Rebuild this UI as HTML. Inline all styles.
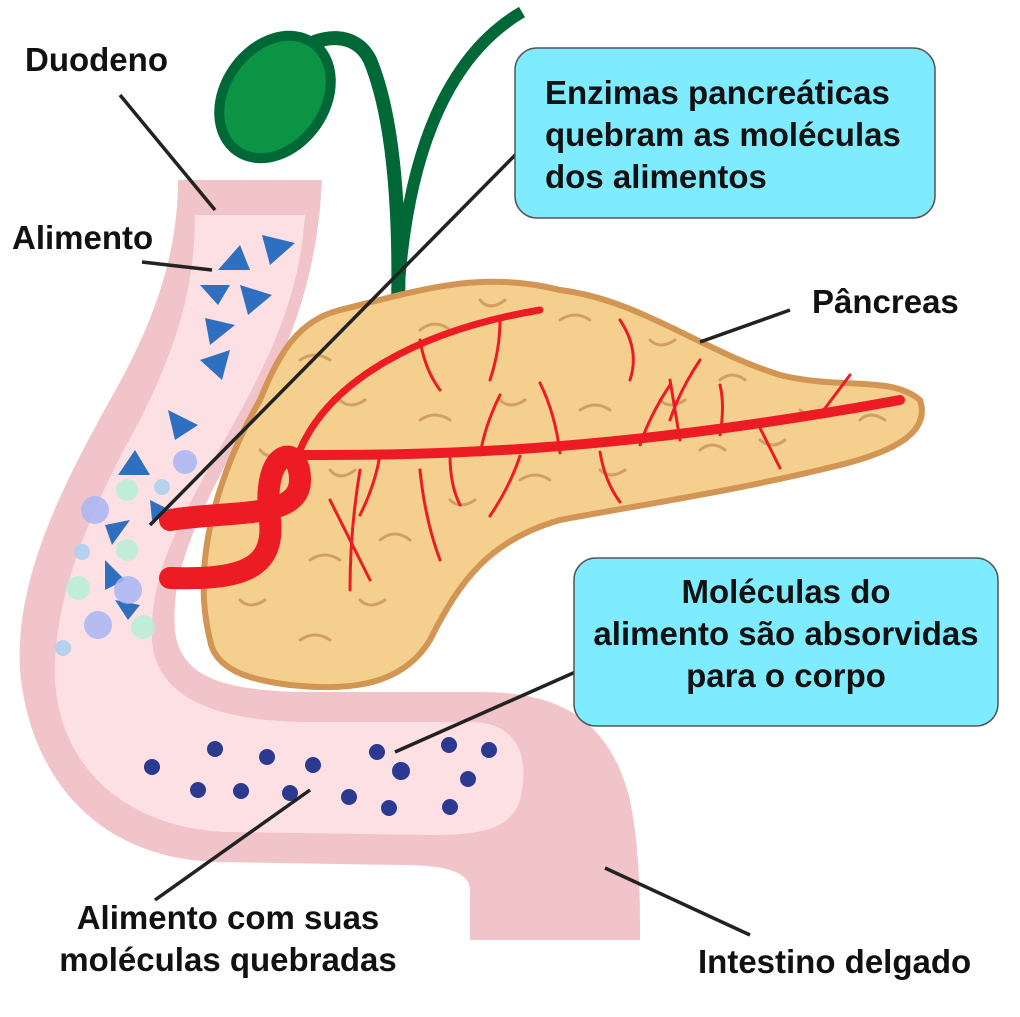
<!DOCTYPE html>
<html><head><meta charset="utf-8"><style>
html,body{margin:0;padding:0;background:#fff;}
svg{display:block}
text{font-family:"Liberation Sans",sans-serif;font-size:33px;font-weight:bold;fill:#111;}
</style></head><body>
<svg width="1020" height="1017" viewBox="0 0 1020 1017">
<!-- bile duct + gallbladder -->
<path d="M398 310 C400 220 395 120 370 60 C355 30 320 35 300 50" fill="none" stroke="#006837" stroke-width="14"/>
<path d="M398 300 C405 170 440 60 522 12" fill="none" stroke="#006837" stroke-width="12"/>
<ellipse cx="275" cy="97" rx="50" ry="66" transform="rotate(35 275 97)" fill="#0b9444" stroke="#006837" stroke-width="10"/>
<!-- duodenum outer -->
<path d="M178 180 L322 180 C318 260 300 330 250 420 C200 510 170 570 175 630 C180 680 230 690 300 692 L480 692 C560 692 610 720 630 800 C640 850 640 900 640 940 L470 940 L470 890 C470 870 440 865 400 865 L220 862 C100 860 30 780 20 670 C15 580 60 490 110 400 C150 330 178 260 178 180 Z" fill="#f0c4c8"/>
<!-- inner lighter -->
<path d="M195 215 L305 215 C300 290 275 350 230 430 C180 520 150 570 152 640 C156 700 220 720 300 722 L470 722 C520 722 530 760 520 800 C510 830 480 835 430 835 L230 832 C130 830 60 770 55 680 C52 600 90 510 140 420 C175 350 195 290 195 215 Z" fill="#fde0e4"/>
<!-- pancreas -->
<path d="M210 640 C190 560 220 470 260 400 C280 350 300 320 340 310 C420 290 480 270 560 290 C640 300 700 350 780 375 C840 390 890 375 920 400 C930 430 900 450 840 465 C740 490 640 505 560 520 C490 540 460 580 430 640 C400 690 340 690 290 685 C250 680 215 670 210 640 Z" fill="#f5cf8e" stroke="#d29553" stroke-width="6"/>
<g fill="none" stroke="#c8925a" stroke-width="3" stroke-linecap="round" opacity="0.8">
<path d="M300 360 q15 -10 30 0 M340 400 q10 10 25 0 M420 330 q15 -12 30 0 M480 300 q10 12 25 0 M560 320 q15 -10 30 0 M650 340 q10 10 25 0 M720 380 q12 -10 25 0 M800 410 q12 10 25 0 M860 420 q10 -10 25 0 M260 450 q10 12 25 0 M250 520 q15 -10 30 0 M240 600 q10 10 25 0 M300 640 q15 -10 30 0 M360 600 q10 10 25 0 M380 540 q15 -12 30 0 M450 500 q10 10 25 0 M520 480 q15 -10 30 0 M600 470 q10 10 25 0 M700 450 q12 -10 25 0 M760 440 q12 10 25 0 M420 420 q15 -10 30 0 M500 400 q10 10 25 0 M580 410 q15 -10 30 0 M660 400 q10 10 25 0 M330 470 q10 12 25 0 M310 560 q15 -10 30 0"/>
</g>
<!-- red vessels -->
<g fill="none" stroke="#ed1c24" stroke-linecap="round">
<path d="M170 520 C230 510 300 520 300 480 C300 440 260 450 270 520 C275 570 240 580 170 578" stroke-width="22"/>
<path d="M300 455 C420 455 600 455 900 400" stroke-width="10"/>
<path d="M300 450 C330 380 420 330 540 310" stroke-width="7"/>
<path d="M380 455 q-5 30 -20 60 M450 455 q0 30 10 50 M520 456 q-10 30 -30 60 M600 452 q5 30 20 50 M680 440 q-5 -30 -10 -60 M760 428 q10 20 20 40 M480 455 q5 -30 20 -60 M560 453 q-5 -40 -20 -70 M640 445 q10 -30 30 -60 M720 435 q5 -30 0 -50 M820 415 q15 -20 30 -40 M420 340 q5 30 20 50 M500 320 q0 30 -10 60 M360 470 q-10 60 -10 120 M420 470 q5 50 20 90 M330 500 q20 40 40 80 M620 320 q20 30 10 60 M700 360 q-20 30 -30 60" stroke-width="3"/>
</g>
<!-- triangles -->
<g fill="#2e6fbf">
<path d="M218 270 L240 245 L250 270Z M262 235 L295 243 L270 265Z M200 285 L230 285 L218 305Z M240 285 L272 295 L248 315Z M205 318 L235 325 L210 345Z M200 360 L230 350 L222 380Z M168 410 L198 425 L175 440Z M118 475 L135 450 L150 475Z M105 525 L130 520 L112 545Z M105 560 L125 580 L105 590Z M115 600 L140 605 L128 620Z M150 500 L170 510 L152 520Z"/>
</g>
<g opacity="0.85">
<circle cx="185" cy="462" r="12" fill="#a9b6f5"/><circle cx="95" cy="510" r="14" fill="#a9b6f5"/>
<circle cx="127" cy="490" r="11" fill="#b6f0d6"/><circle cx="127" cy="550" r="11" fill="#b6f0d6"/>
<circle cx="78" cy="588" r="12" fill="#b6f0d6"/><circle cx="128" cy="590" r="14" fill="#a9b6f5"/>
<circle cx="98" cy="625" r="14" fill="#a9b6f5"/><circle cx="143" cy="627" r="12" fill="#b6f0d6"/>
<circle cx="82" cy="552" r="8" fill="#aad0f0"/><circle cx="63" cy="648" r="8" fill="#aad0f0"/>
<circle cx="162" cy="487" r="8" fill="#aad0f0"/>
</g>
<!-- dots -->
<g fill="#2b3990">
<circle cx="152" cy="767" r="8"/><circle cx="215" cy="749" r="8"/><circle cx="267" cy="757" r="8"/><circle cx="313" cy="765" r="8"/><circle cx="377" cy="752" r="8"/><circle cx="401" cy="771" r="9"/><circle cx="449" cy="745" r="8"/><circle cx="489" cy="750" r="8"/><circle cx="198" cy="790" r="8"/><circle cx="241" cy="791" r="8"/><circle cx="290" cy="793" r="8"/><circle cx="349" cy="797" r="8"/><circle cx="389" cy="808" r="8"/><circle cx="450" cy="807" r="8"/><circle cx="468" cy="779" r="8"/>
</g>
<!-- leader lines -->
<g stroke="#222" stroke-width="3.5" fill="none">
<line x1="120" y1="95" x2="215" y2="210"/>
<line x1="142" y1="262" x2="212" y2="270"/>
<line x1="525" y1="145" x2="150" y2="525"/>
<line x1="790" y1="310" x2="700" y2="342"/>
<line x1="580" y1="670" x2="395" y2="752"/>
<line x1="155" y1="900" x2="310" y2="790"/>
<line x1="750" y1="935" x2="605" y2="868"/>
</g>
<!-- boxes -->
<rect x="515" y="48" width="420" height="170" rx="22" fill="#7febfe" stroke="#555" stroke-width="1.5"/>
<rect x="574" y="558" width="424" height="168" rx="22" fill="#7febfe" stroke="#555" stroke-width="1.5"/>
<text x="545" y="104">Enzimas pancreáticas</text>
<text x="545" y="146">quebram as moléculas</text>
<text x="545" y="188">dos alimentos</text>
<text x="786" y="603" text-anchor="middle">Moléculas do</text>
<text x="786" y="645" text-anchor="middle">alimento são absorvidas</text>
<text x="786" y="687" text-anchor="middle">para o corpo</text>
<text x="25" y="71">Duodeno</text>
<text x="12" y="249">Alimento</text>
<text x="812" y="313">Pâncreas</text>
<text x="228" y="929" text-anchor="middle">Alimento com suas</text>
<text x="228" y="971" text-anchor="middle">moléculas quebradas</text>
<text x="698" y="973">Intestino delgado</text>
</svg>
</body></html>
